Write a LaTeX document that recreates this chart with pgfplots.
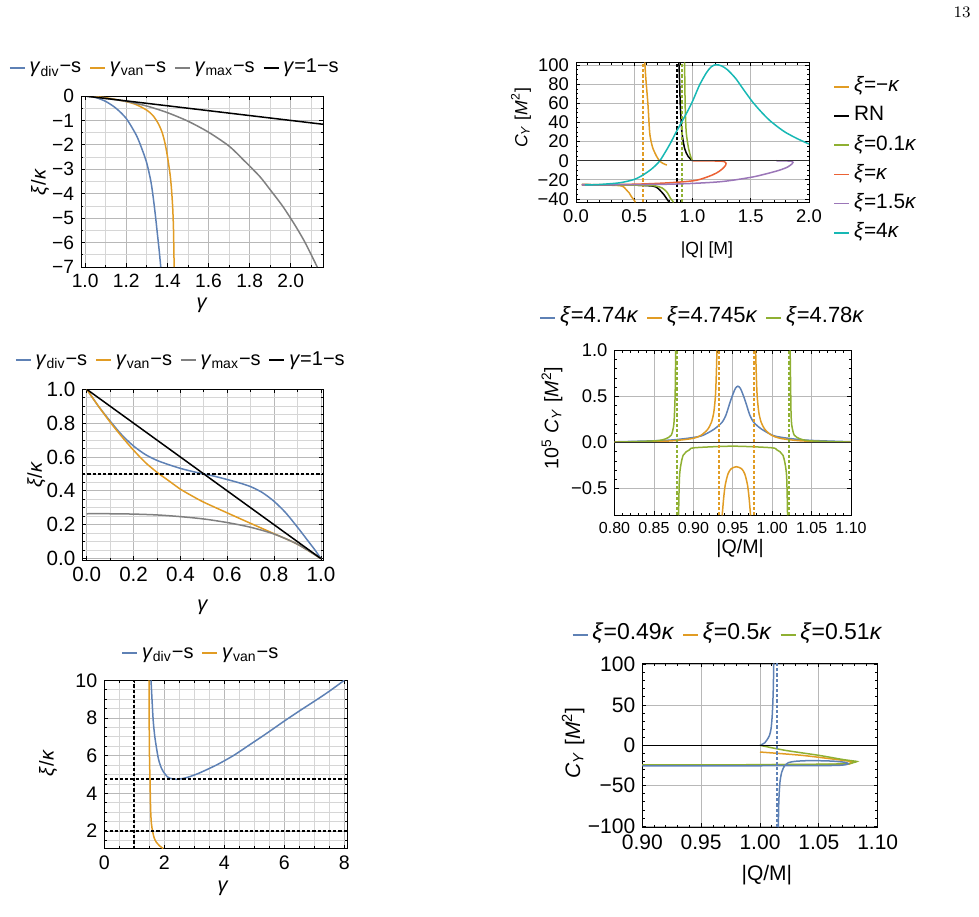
\documentclass[border=0pt]{standalone}
\usepackage{pgfplots}
\pgfplotsset{compat=1.18}
\usepackage{fontspec}
\setmainfont{Liberation Sans}
\newfontfamily\lmr{Latin Modern Roman}

\definecolor{mblue}{HTML}{5E81B5}
\definecolor{morange}{HTML}{E19C24}
\definecolor{mgreen}{HTML}{8FB032}
\definecolor{mred}{HTML}{EB6235}
\definecolor{mpurple}{HTML}{9B76B8}
\definecolor{mteal}{HTML}{17B8B4}
\definecolor{mgray}{HTML}{808080}

\newcommand{\fs}[1]{\fontsize{#1}{#1}\selectfont}

\pgfplotsset{
  mma/.style={
    scale only axis,
    anchor=north west,
    axis line style={black, line width=0.5pt},
    tick align=inside, tick pos=both,
    xticklabel pos=lower, yticklabel pos=left,
    major tick length=2pt, minor tick length=1.2pt,
    tick style={black, line width=0.4pt},
    major grid style={black!28, line width=0.4pt},
    minor grid style={black!16, line width=0.4pt},
    legend cell align=left,
    legend image code/.code={\draw[##1, solid, line width=0.8pt] (0pt,0pt) -- (7.5pt,0pt);},
    xlabel style={anchor=center},
    ylabel style={anchor=center},
    every axis plot/.append style={line width=0.75pt},
    legend style={draw=none, fill=none, inner sep=0pt,
      nodes={inner sep=0pt, text height=7.5pt, text depth=2.5pt},
      /tikz/every odd column/.append style={column sep=2pt},
      /tikz/every even column/.append style={column sep=4pt}},
  },
  curve/.style={smooth, tension=0.45},
  blackdash/.style={black, line width=0.8pt, dash pattern=on 1.6pt off 1pt, forget plot},
  cdash/.style={#1, line width=1pt, dash pattern=on 1.6pt off 1pt, forget plot},
}

\begin{document}
\begin{tikzpicture}
\path[use as bounding box] (0,0) rectangle (489.5pt,-458pt);
\node[font=\lmr\fs{8}] at (481pt,-6pt) {13};

% ---------- gamma vs xi/kappa, gamma > 1 ----------
\begin{axis}[mma, at={(40.5pt,-48pt)}, width=121pt, height=85.5pt,
  xmin=0.98, xmax=2.157, ymin=-7, ymax=0,
  xtick={1,1.2,1.4,1.6,1.8,2}, xticklabels={1.0,1.2,1.4,1.6,1.8,2.0},
  minor xtick={1.1,1.3,1.5,1.7,1.9,2.1},
  ytick={-7,-6,-5,-4,-3,-2,-1,0}, yticklabels={−7,−6,−5,−4,−3,−2,−1,0},
  minor ytick={-6.5,-5.5,-4.5,-3.5,-2.5,-1.5,-0.5},
  grid=both,
  tick label style={font=\fs{9.6}},
  label style={font=\fs{10}},
  xlabel={\textit{γ}}, ylabel={\textit{ξ}/\textit{κ}},
  xlabel style={at={(axis description cs:0.5,-0.222)}},
  ylabel style={at={(axis description cs:-0.169,0.497)}},
  legend columns=4,
  legend style={at={(axis description cs:0.384,1.164)}, anchor=center, font=\fs{10}},
]
\addplot[mblue, curve] coordinates {(1.0,0) (1.05,-0.06) (1.1,-0.22) (1.15,-0.5) (1.2,-0.92) (1.25,-1.62) (1.28,-2.25) (1.3,-2.75) (1.32,-3.5) (1.332,-4.2) (1.342,-4.9) (1.351,-5.6) (1.36,-6.3) (1.368,-7.0)};
\addlegendentry{\textit{γ}\textsubscript{div}−s}
\addplot[morange, curve] coordinates {(1.0,0) (1.1,-0.07) (1.2,-0.23) (1.25,-0.36) (1.3,-0.58) (1.33,-0.8) (1.356,-1.13) (1.375,-1.5) (1.389,-1.95) (1.40,-2.45) (1.413,-3.19) (1.42,-3.8) (1.426,-4.57) (1.43,-5.5) (1.433,-7.0)};
\addlegendentry{\textit{γ}\textsubscript{van}−s}
\addplot[mgray, curve] coordinates {(1.0,0) (1.1,-0.1) (1.2,-0.22) (1.3,-0.41) (1.4,-0.68) (1.5,-1.03) (1.6,-1.48) (1.7,-2.05) (1.773,-2.64) (1.85,-3.3) (1.904,-3.88) (1.96,-4.5) (2.018,-5.25) (2.07,-6.0) (2.129,-7.0)};
\addlegendentry{\textit{γ}\textsubscript{max}−s}
\addplot[black] coordinates {(1.0,0) (2.157,-1.157)};
\addlegendentry{\textit{γ}=1−s}
\end{axis}

% ---------- gamma vs xi/kappa, 0 < gamma < 1 ----------
\begin{axis}[mma, at={(41.15pt,-194.65pt)}, width=120.5pt, height=85.5pt,
  xmin=-0.019, xmax=1.01, ymin=-0.01, ymax=1.0,
  xtick={0,0.2,0.4,0.6,0.8,1}, xticklabels={0.0,0.2,0.4,0.6,0.8,1.0},
  minor xtick={0.1,0.3,0.5,0.7,0.9},
  ytick={0,0.2,0.4,0.6,0.8,1}, yticklabels={0.0,0.2,0.4,0.6,0.8,1.0},
  minor ytick={0.05,0.1,0.15,0.25,0.3,0.35,0.45,0.5,0.55,0.65,0.7,0.75,0.85,0.9,0.95},
  grid=both,
  tick label style={font=\fs{10.3}},
  label style={font=\fs{10}},
  xlabel={\textit{γ}}, ylabel={\textit{ξ}/\textit{κ}},
  xlabel style={at={(axis description cs:0.5,-0.273)}},
  ylabel style={at={(axis description cs:-0.19,0.5)}},
  legend columns=4,
  legend style={at={(axis description cs:0.405,1.171)}, anchor=center, font=\fs{10}},
]
\addplot[mblue, curve] coordinates {(0,1) (0.05,0.9) (0.1,0.812) (0.15,0.73) (0.2,0.665) (0.25,0.615) (0.3,0.58) (0.35,0.555) (0.4,0.533) (0.45,0.515) (0.5,0.5) (0.55,0.485) (0.6,0.467) (0.65,0.448) (0.7,0.425) (0.75,0.39) (0.8,0.338) (0.85,0.27) (0.9,0.185) (0.95,0.095) (0.975,0.05) (1.0,0)};
\addlegendentry{\textit{γ}\textsubscript{div}−s}
\addplot[morange, curve] coordinates {(0,1) (0.05,0.9) (0.1,0.806) (0.15,0.72) (0.2,0.64) (0.25,0.568) (0.3,0.51) (0.35,0.46) (0.4,0.41) (0.45,0.37) (0.5,0.333) (0.6,0.27) (0.7,0.208) (0.8,0.147) (0.9,0.085) (1.0,0)};
\addlegendentry{\textit{γ}\textsubscript{van}−s}
\addplot[mgray, curve] coordinates {(0,0.265) (0.1,0.265) (0.2,0.263) (0.3,0.258) (0.4,0.248) (0.5,0.234) (0.6,0.213) (0.7,0.185) (0.8,0.145) (0.9,0.085) (1.0,0)};
\addlegendentry{\textit{γ}\textsubscript{max}−s}
\addplot[black] coordinates {(0,1) (1,0)};
\addlegendentry{\textit{γ}=1−s}
\addplot[blackdash] coordinates {(-0.019,0.5) (1.01,0.5)};
\end{axis}

% ---------- gamma vs xi/kappa, wide range ----------
\begin{axis}[mma, at={(52.15pt,-340.15pt)}, width=121.6pt, height=84.2pt,
  xmin=0, xmax=8.107, ymin=1.06, ymax=10,
  xtick={0,2,4,6,8}, xticklabels={0,2,4,6,8},
  minor xtick={0.5,1,1.5,2.5,3,3.5,4.5,5,5.5,6.5,7,7.5},
  ytick={2,4,6,8,10}, yticklabels={2,4,6,8,10},
  minor ytick={1.5,2.5,3,3.5,4.5,5,5.5,6.5,7,7.5,8.5,9,9.5},
  grid=both,
  tick label style={font=\fs{9.8}},
  label style={font=\fs{10}},
  xlabel={\textit{γ}}, ylabel={\textit{ξ}/\textit{κ}},
  xlabel style={at={(axis description cs:0.488,-0.233)}},
  ylabel style={at={(axis description cs:-0.231,0.509)}},
  legend columns=2,
  legend style={at={(axis description cs:0.393,1.162)}, anchor=center, font=\fs{10}},
]
\addplot[mblue, curve] coordinates {(1.557,10) (1.6,8.7) (1.633,7.81) (1.69,6.93) (1.8,5.86) (1.9,5.35) (1.967,5.15) (2.1,4.88) (2.19,4.8) (2.3,4.755) (2.41,4.745) (2.6,4.78) (2.857,4.89) (3.2,5.1) (3.747,5.51) (4.3,6.0) (4.857,6.59) (5.4,7.17) (5.967,7.8) (6.5,8.37) (7.08,8.97) (7.5,9.42) (8.0,10.0)};
\addlegendentry{\textit{γ}\textsubscript{div}−s}
\addplot[morange, curve] coordinates {(1.49,10) (1.5,6.93) (1.51,5.6) (1.523,4.8) (1.535,3.8) (1.547,3.03) (1.57,2.4) (1.613,1.96) (1.66,1.65) (1.723,1.43) (1.85,1.2) (1.967,1.07)};
\addlegendentry{\textit{γ}\textsubscript{van}−s}
\addplot[blackdash] coordinates {(1,1.06) (1,10)};
\addplot[blackdash] coordinates {(0,4.745) (8.107,4.745)};
\addplot[blackdash] coordinates {(0,2) (8.107,2)};
\end{axis}

% ---------- heat capacity vs |Q| ----------
\begin{axis}[mma, at={(288pt,-31.15pt)}, width=116.5pt, height=70pt,
  xmin=0, xmax=2, ymin=-43.4, ymax=102.8,
  xtick={0,0.5,1,1.5,2}, xticklabels={0.0,0.5,1.0,1.5,2.0},
  ytick={-40,-20,0,20,40,60,80,100}, yticklabels={−40,−20,0,20,40,60,80,100},
  minor x tick num=4, minor y tick num=3,
  grid=major,
  tick label style={font=\fs{9.2}},
  label style={font=\fs{8.8}},
  xlabel={|Q| [M]}, ylabel={\textit{C}\textsubscript{\textit{Y}} [\textit{M}\textsuperscript{2}]},
  xlabel style={at={(axis description cs:0.562,-0.341)}},
  ylabel style={at={(axis description cs:-0.236,0.602)}},
  legend columns=1,
  legend style={at={(axis description cs:1.103,0.9)}, anchor=north west, font=\fs{10.4}, row sep=4.6pt},
]
\addlegendimage{morange}
\addlegendimage{black}
\addlegendimage{mgreen}
\addlegendimage{mred}
\addlegendimage{mpurple}
\addlegendimage{mteal}
\legend{\textit{ξ}=−\textit{κ}, RN, \textit{ξ}=0.1\textit{κ}, \textit{ξ}=\textit{κ}, \textit{ξ}=1.5\textit{κ}, \textit{ξ}=4\textit{κ}}
% xi = -kappa
\addplot[morange, curve, forget plot] coordinates {(0.590,102.8) (0.60,85) (0.618,58) (0.632,30) (0.645,20) (0.66,13) (0.69,5) (0.718,-0.3) (0.75,-3) (0.78,-4.5)};
\addplot[morange, curve, forget plot] coordinates {(0.05,-25) (0.23,-25.3) (0.376,-26) (0.41,-27.5) (0.433,-30.5) (0.456,-33.5) (0.476,-37.5) (0.495,-40.5) (0.51,-43.4)};
\addplot[cdash=morange] coordinates {(0.577,-43.4) (0.577,102.8)};
% Reissner-Nordstrom
\addplot[black, curve, forget plot] coordinates {(0.883,102.8) (0.89,80) (0.895,58) (0.909,30) (0.932,13) (0.96,5) (0.99,1) (1.0,0)};
\addplot[black, curve, forget plot] coordinates {(0.05,-25) (0.5,-25.5) (0.66,-26.5) (0.70,-28.5) (0.73,-32) (0.755,-35.5) (0.775,-39) (0.80,-43.4)};
\addplot[cdash=black] coordinates {(0.866,-43.4) (0.866,102.8)};
% xi = 0.1 kappa
\addplot[mgreen, curve, forget plot] coordinates {(0.932,102.8) (0.937,58) (0.946,30) (0.966,13) (0.985,4) (1.0,0)};
\addplot[mgreen, curve, forget plot] coordinates {(0.05,-25) (0.6,-25.7) (0.69,-26.5) (0.74,-28.5) (0.775,-32) (0.795,-35.5) (0.81,-39) (0.838,-43.4)};
\addplot[cdash=mgreen] coordinates {(0.909,-43.4) (0.909,102.8)};
% xi = kappa
\addplot[mred, curve, forget plot] coordinates {(0.05,-25) (0.5,-24.5) (0.8,-23) (1.03,-20.5) (1.17,-14.9) (1.23,-11) (1.265,-7.5) (1.285,-4.5) (1.288,-2.5) (1.275,-1) (1.24,-0.4) (1.15,-0.2) (1.0,0)};
% xi = 1.5 kappa
\addplot[mpurple, curve, forget plot] coordinates {(0.05,-25.3) (0.8,-24.5) (1.23,-22) (1.515,-17) (1.715,-11) (1.80,-7.5) (1.83,-5.5) (1.855,-3.2) (1.863,-1.6) (1.85,-0.5) (1.8,-0.2) (1.72,0)};
% xi = 4 kappa
\addplot[mteal, curve, forget plot] coordinates {(0.077,-25.3) (0.2,-24.8) (0.376,-23) (0.5,-19.5) (0.575,-14.9) (0.65,-8.5) (0.718,-0.3) (0.8,16) (0.86,30) (0.946,49) (1.0,62) (1.06,79) (1.12,92) (1.16,98) (1.20,100.4) (1.25,99) (1.3,95) (1.37,86) (1.44,74) (1.515,61.5) (1.59,51) (1.66,42.4) (1.73,35.5) (1.80,29.5) (1.9,23) (2.0,17.5)};
\addplot[black!80, line width=0.5pt, forget plot] coordinates {(0,0) (2,0)};
\end{axis}

% ---------- heat capacity near xi = 4.74 kappa ----------
\begin{axis}[mma, at={(307.25pt,-175.15pt)}, width=118.25pt, height=82.5pt,
  xmin=0.8, xmax=1.1, ymin=-0.79, ymax=1.0,
  xtick={0.8,0.85,0.9,0.95,1,1.05,1.1}, xticklabels={0.80,0.85,0.90,0.95,1.00,1.05,1.10},
  ytick={-0.5,0,0.5,1}, yticklabels={−0.5,0.0,0.5,1.0},
  minor x tick num=4, minor y tick num=4,
  grid=major,
  xticklabel style={font=\fs{8}},
  yticklabel style={font=\fs{9.2}},
  label style={font=\fs{9.8}},
  xlabel={|Q/M|}, ylabel={10\textsuperscript{5} \textit{C}\textsubscript{\textit{Y}} [\textit{M}\textsuperscript{2}]},
  xlabel style={at={(axis description cs:0.531,-0.198)}},
  ylabel style={at={(axis description cs:-0.264,0.59)}},
  legend columns=3,
  legend style={at={(axis description cs:0.37,1.196)}, anchor=center, font=\fs{11}},
]
\addplot[mblue, curve] coordinates {(0.80,0.007) (0.8565,0.02) (0.8765,0.03) (0.8965,0.05) (0.9115,0.075) (0.9265,0.145) (0.9365,0.22) (0.9415,0.30) (0.9445,0.38) (0.9475,0.46) (0.9505,0.53) (0.9535,0.59) (0.9565,0.61) (0.9595,0.59) (0.9625,0.53) (0.9655,0.46) (0.9685,0.38) (0.9715,0.30) (0.9765,0.22) (0.9865,0.145) (1.0015,0.075) (1.0165,0.05) (1.0365,0.03) (1.0565,0.02) (1.1,0.008)};
\addlegendentry{\textit{ξ}=4.74\textit{κ}}
\addplot[morange, curve] coordinates {(0.80,0.003) (0.85,0.01) (0.876,0.02) (0.90,0.045) (0.91,0.08) (0.918,0.14) (0.923,0.22) (0.926,0.33) (0.928,0.5) (0.929,0.7) (0.930,1.0)};
\addlegendentry{\textit{ξ}=4.745\textit{κ}}
\addplot[mgreen, curve] coordinates {(0.80,0.004) (0.83,0.01) (0.855,0.02) (0.865,0.04) (0.872,0.08) (0.875,0.18) (0.876,0.3) (0.877,0.55) (0.8776,1.0)};
\addlegendentry{\textit{ξ}=4.78\textit{κ}}
\addplot[morange, curve, forget plot] coordinates {(0.979,1.0) (0.980,0.7) (0.981,0.5) (0.983,0.33) (0.986,0.22) (0.991,0.14) (0.999,0.08) (1.01,0.045) (1.033,0.02) (1.06,0.01) (1.1,0.003)};
\addplot[morange, curve, forget plot] coordinates {(0.9366,-0.79) (0.9385,-0.6) (0.9405,-0.46) (0.944,-0.34) (0.948,-0.285) (0.9546,-0.263) (0.9612,-0.285) (0.9652,-0.34) (0.9687,-0.46) (0.9707,-0.6) (0.9726,-0.79)};
\addplot[mgreen, curve, forget plot] coordinates {(1.0228,1.0) (1.0235,0.55) (1.024,0.3) (1.025,0.18) (1.028,0.08) (1.035,0.04) (1.045,0.02) (1.07,0.01) (1.1,0.004)};
\addplot[mgreen, curve, forget plot] coordinates {(0.8813,-0.79) (0.8826,-0.35) (0.887,-0.14) (0.895,-0.08) (0.9017,-0.057) (0.95,-0.04) (0.999,-0.057) (1.006,-0.08) (1.0138,-0.14) (1.0182,-0.35) (1.0195,-0.79)};
\addplot[cdash=morange] coordinates {(0.9325,-0.79) (0.9325,1.0)};
\addplot[cdash=morange] coordinates {(0.9764,-0.79) (0.9764,1.0)};
\addplot[cdash=mgreen] coordinates {(0.8796,-0.79) (0.8796,1.0)};
\addplot[cdash=mgreen] coordinates {(1.0208,-0.79) (1.0208,1.0)};
\addplot[black!80, line width=0.5pt, forget plot] coordinates {(0.8,0) (1.1,0)};
\end{axis}

% ---------- heat capacity near xi = kappa/2 ----------
\begin{axis}[mma, at={(321.15pt,-331.65pt)}, width=117.7pt, height=82pt,
  xmin=0.9, xmax=1.1, ymin=-101.5, ymax=101.5,
  xtick={0.9,0.95,1,1.05,1.1}, xticklabels={0.90,0.95,1.00,1.05,1.10},
  ytick={-100,-50,0,50,100}, yticklabels={−100,−50,0,50,100},
  minor x tick num=4, minor y tick num=4,
  grid=major,
  tick label style={font=\fs{10.5}},
  label style={font=\fs{10.5}},
  xlabel={|Q/M|}, ylabel={\textit{C}\textsubscript{\textit{Y}} [\textit{M}\textsuperscript{2}]},
  xlabel style={at={(axis description cs:0.529,-0.291)}},
  ylabel style={at={(axis description cs:-0.294,0.514)}},
  legend columns=3,
  legend style={at={(axis description cs:0.36,1.173)}, anchor=center, font=\fs{11.5}},
]
\addplot[mblue, curve] coordinates {(1.0,0) (1.004,3) (1.0057,6.2) (1.008,12) (1.0094,20.7) (1.0103,35) (1.0108,49.6) (1.0113,70) (1.0117,101.5)};
\addlegendentry{\textit{ξ}=0.49\textit{κ}}
\addplot[morange, curve] coordinates {(1.0,-8.3) (1.0355,-12.4) (1.064,-17.4) (1.075,-19.5) (1.0795,-20.7) (1.076,-22.5) (1.07,-23.6) (1.0,-24.1) (0.9,-24.3)};
\addlegendentry{\textit{ξ}=0.5\textit{κ}}
\addplot[mgreen, curve] coordinates {(1.0,0) (1.0213,-6.2) (1.05,-12.4) (1.0696,-17.4) (1.079,-19.3) (1.0824,-20) (1.079,-21.5) (1.07,-23) (1.0,-24.0) (0.9,-24.2)};
\addlegendentry{\textit{ξ}=0.51\textit{κ}}
\addplot[mblue, curve, forget plot] coordinates {(1.0156,-101.5) (1.0158,-80) (1.0162,-62) (1.017,-45) (1.0185,-33) (1.021,-25) (1.024,-21.5) (1.03,-19.8) (1.041,-19) (1.055,-19.2) (1.064,-19.8) (1.072,-21) (1.075,-22.7) (1.072,-24.2) (1.06,-25) (1.0,-25.3) (0.9,-25.5)};
\addplot[cdash=mblue] coordinates {(1.0142,-101.5) (1.0142,101.5)};
\addplot[black, line width=0.5pt, forget plot] coordinates {(0.9,0) (1.1,0)};
\end{axis}
\end{tikzpicture}
\end{document}
